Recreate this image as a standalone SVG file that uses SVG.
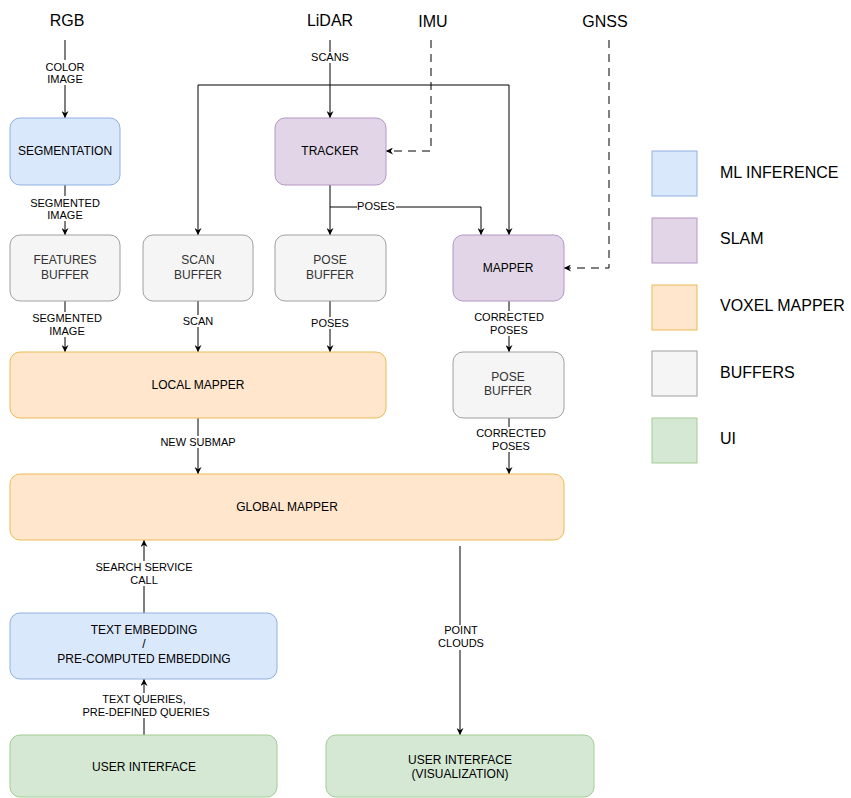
<svg xmlns="http://www.w3.org/2000/svg" width="851" height="798" viewBox="0 0 851 798">
<style>
text{font-family:"Liberation Sans",Arial,sans-serif;fill:#000;text-anchor:middle}
.n{font-size:12px}
.g text{fill:#333}
.e{font-size:11px}
.t{font-size:16px}
.lg{font-size:16px;text-anchor:start}
.blue{fill:#dae8fc;stroke:#8fb0e0}
.purple{fill:#e1d5e7;stroke:#b596c4}
.orange{fill:#ffe6cc;stroke:#ecbb55}
.gray{fill:#f5f5f5;stroke:#a0a0a0}
.green{fill:#d5e8d4;stroke:#a3cc93}
.c{fill:none;stroke:#000;stroke-width:1}
.d{stroke-dasharray:8 6}
.bg{fill:#fff;stroke:none}
</style>
<defs>
<marker id="a" viewBox="0 0 8 8" refX="8" refY="4" markerWidth="7" markerHeight="7" markerUnits="userSpaceOnUse" orient="auto">
<path d="M0,0 L8,4 L0,8 L2.5,4 z" fill="#000"/>
</marker>
</defs>
<rect width="851" height="798" fill="#fff"/>

<g id="sources">
<text class="t" x="67" y="26">RGB</text>
<text class="t" x="330" y="26">LiDAR</text>
<text class="t" x="433" y="27">IMU</text>
<text class="t" x="605" y="27">GNSS</text>
</g>

<g id="connectors">
<path class="c" d="M65,40 V118" marker-end="url(#a)"/>
<path class="c" d="M330,40 V118" marker-end="url(#a)"/>
<path class="c" d="M198,85 H509"/>
<path class="c" d="M198,85 V235" marker-end="url(#a)"/>
<path class="c" d="M509,85 V235" marker-end="url(#a)"/>
<path class="c d" d="M431,40 V151 H386" marker-end="url(#a)"/>
<path class="c d" d="M609,40 V268 H564" marker-end="url(#a)"/>
<path class="c" d="M330,185 V235" marker-end="url(#a)"/>
<path class="c" d="M330,207 H481 V235" marker-end="url(#a)"/>
<path class="c" d="M65,185 V235" marker-end="url(#a)"/>
<path class="c" d="M65,301 V352" marker-end="url(#a)"/>
<path class="c" d="M198,301 V352" marker-end="url(#a)"/>
<path class="c" d="M330,301 V352" marker-end="url(#a)"/>
<path class="c" d="M509,301 V352" marker-end="url(#a)"/>
<path class="c" d="M509,418 V474" marker-end="url(#a)"/>
<path class="c" d="M198,418 V474" marker-end="url(#a)"/>
<path class="c" d="M144,613 V540" marker-end="url(#a)"/>
<path class="c" d="M144,735 V679" marker-end="url(#a)"/>
<path class="c" d="M460,546 V735" marker-end="url(#a)"/>

<g id="edge-labels">
<rect class="bg" x="42" y="60" width="46" height="25"/>
<text class="e" x="65" y="70.5">COLOR</text><text class="e" x="65" y="83">IMAGE</text>
<rect class="bg" x="311" y="52" width="38" height="11"/>
<text class="e" x="330" y="61">SCANS</text>
<rect class="bg" x="357" y="201" width="39" height="11"/>
<text class="e" x="376" y="210">POSES</text>
<rect class="bg" x="30" y="196" width="70" height="25"/>
<text class="e" x="65" y="206.5">SEGMENTED</text><text class="e" x="65" y="219">IMAGE</text>
<rect class="bg" x="30" y="312" width="70" height="25"/>
<text class="e" x="67" y="322">SEGMENTED</text><text class="e" x="67" y="335">IMAGE</text>
<rect class="bg" x="182" y="315" width="32" height="12"/>
<text class="e" x="198" y="325">SCAN</text>
<rect class="bg" x="311" y="317" width="39" height="12"/>
<text class="e" x="330" y="327">POSES</text>
<rect class="bg" x="474" y="311" width="70" height="25"/>
<text class="e" x="509" y="321">CORRECTED</text><text class="e" x="509" y="334">POSES</text>
<rect class="bg" x="474" y="427" width="70" height="25"/>
<text class="e" x="511" y="437">CORRECTED</text><text class="e" x="511" y="450">POSES</text>
<rect class="bg" x="160" y="436" width="76" height="12"/>
<text class="e" x="198" y="446">NEW SUBMAP</text>
<rect class="bg" x="91" y="561" width="106" height="25"/>
<text class="e" x="144" y="571">SEARCH SERVICE</text><text class="e" x="144" y="584">CALL</text>
<rect class="bg" x="81" y="693" width="126" height="25"/>
<text class="e" x="144" y="703">TEXT QUERIES,</text><text class="e" x="146" y="716">PRE-DEFINED QUERIES</text>
<rect class="bg" x="440" y="625" width="42" height="25"/>
<text class="e" x="461" y="634">POINT</text><text class="e" x="461" y="647">CLOUDS</text>
</g>
</g>

<g id="segmentation"><rect class="blue" x="10" y="118" width="110" height="67" rx="10"/><text class="n" x="65" y="155">SEGMENTATION</text></g>
<g id="tracker"><rect class="purple" x="275" y="118" width="111" height="67" rx="10"/><text class="n" x="330" y="155">TRACKER</text></g>
<g id="features-buffer" class="g"><rect class="gray" x="10" y="235" width="110" height="66" rx="10"/><text class="n" x="65" y="264">FEATURES</text><text class="n" x="65" y="278.5">BUFFER</text></g>
<g id="scan-buffer" class="g"><rect class="gray" x="143" y="235" width="110" height="66" rx="10"/><text class="n" x="198" y="264">SCAN</text><text class="n" x="198" y="278.5">BUFFER</text></g>
<g id="pose-buffer" class="g"><rect class="gray" x="275" y="235" width="111" height="66" rx="10"/><text class="n" x="330" y="264">POSE</text><text class="n" x="330" y="278.5">BUFFER</text></g>
<g id="mapper"><rect class="purple" x="453" y="235" width="111" height="66" rx="10"/><text class="n" x="508" y="272">MAPPER</text></g>
<g id="pose-buffer-2" class="g"><rect class="gray" x="453" y="352" width="111" height="66" rx="10"/><text class="n" x="508" y="381">POSE</text><text class="n" x="508" y="395">BUFFER</text></g>
<g id="local-mapper"><rect class="orange" x="10" y="352" width="376" height="66" rx="10"/><text class="n" x="198" y="389">LOCAL MAPPER</text></g>
<g id="global-mapper"><rect class="orange" x="10" y="474" width="554" height="66" rx="10"/><text class="n" x="287" y="511">GLOBAL MAPPER</text></g>
<g id="text-embedding"><rect class="blue" x="10" y="613" width="267" height="66" rx="10"/><text class="n" x="144" y="634">TEXT EMBEDDING</text><text class="n" x="144" y="648">/</text><text class="n" x="144" y="663">PRE-COMPUTED EMBEDDING</text></g>
<g id="user-interface"><rect class="green" x="10" y="735" width="267" height="62" rx="10"/><text class="n" x="144" y="771">USER INTERFACE</text></g>
<g id="user-interface-vis"><rect class="green" x="326" y="735" width="268" height="62" rx="10"/><text class="n" x="460" y="764">USER INTERFACE</text><text class="n" x="460" y="778">(VISUALIZATION)</text></g>

<g id="legend">
<rect class="blue" x="652" y="151" width="45" height="45"/><text class="lg" x="720" y="177.5">ML INFERENCE</text>
<rect class="purple" x="652" y="218" width="45" height="45"/><text class="lg" x="720" y="244">SLAM</text>
<rect class="orange" x="652" y="285" width="45" height="45"/><text class="lg" x="720" y="311">VOXEL MAPPER</text>
<rect class="gray" x="652" y="351" width="45" height="45"/><text class="lg" x="720" y="378">BUFFERS</text>
<rect class="green" x="652" y="418" width="45" height="45"/><text class="lg" x="720" y="444">UI</text>
</g>
</svg>
